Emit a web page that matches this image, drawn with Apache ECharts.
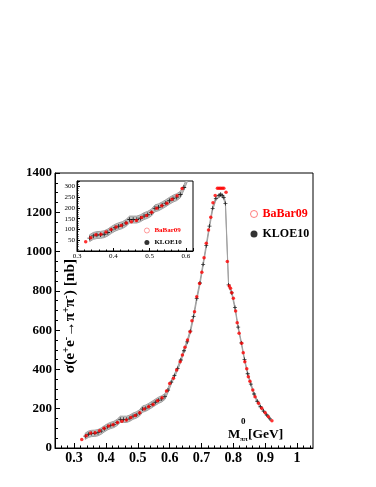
<!DOCTYPE html>
<html>
<head>
<meta charset="utf-8">
<script src="https://cdn.jsdelivr.net/npm/echarts@6/dist/echarts.min.js"></script>
<style>
html, body { margin: 0; padding: 0; background: #fff; }
#chart { width: 376px; height: 487px; }
</style>
</head>
<body>
<div id="chart"></div>
<script>
// BaBar09 points (GeV, nb)
const babarX = [0.324, 0.338, 0.352, 0.366, 0.380, 0.394, 0.408, 0.422, 0.436, 0.450,
  0.464, 0.478, 0.492, 0.506, 0.520, 0.534, 0.548, 0.562, 0.576, 0.590,
  0.600, 0.612, 0.622, 0.633, 0.640, 0.648, 0.656, 0.664, 0.670, 0.678,
  0.685, 0.694, 0.701, 0.708, 0.715, 0.722, 0.729, 0.736, 0.743, 0.750,
  0.755, 0.760, 0.765, 0.770, 0.777, 0.781, 0.787, 0.791, 0.795, 0.800,
  0.807, 0.812, 0.818, 0.826, 0.831, 0.836, 0.842, 0.847, 0.852, 0.861,
  0.868, 0.879, 0.889, 0.900, 0.910, 0.921]
const babarY = [43, 62, 76, 78, 88, 100, 112, 118, 130, 136,
  142, 155, 165, 180, 198, 210, 222, 240, 256, 290,
  329, 355, 397, 439, 473, 513, 550, 592, 648, 694,
  770, 838, 895, 968, 1042, 1110, 1175, 1249, 1285, 1322,
  1322, 1322, 1322, 1322, 1302, 949, 825, 813, 790, 762,
  698, 638, 584, 533, 485, 439, 403, 363, 340, 295,
  261, 228, 202, 180, 159, 139]

// KLOE10 points with error (nb)
const kloeX = [0.335, 0.345, 0.355, 0.365, 0.375, 0.385, 0.395, 0.405, 0.415, 0.425,
  0.435, 0.445, 0.455, 0.465, 0.475, 0.485, 0.495, 0.505, 0.515, 0.525,
  0.535, 0.545, 0.555, 0.565, 0.575, 0.585, 0.595, 0.605, 0.615, 0.625,
  0.635, 0.645, 0.655, 0.665, 0.675, 0.685, 0.695, 0.705, 0.715, 0.725,
  0.735, 0.745, 0.755, 0.760, 0.765, 0.770, 0.775, 0.785, 0.795, 0.805,
  0.815, 0.825, 0.835, 0.845, 0.855, 0.865, 0.875, 0.885, 0.895, 0.905, 0.915]
const kloeY = [60, 70, 74, 75, 78, 86, 98, 108, 115, 120,
  130, 146, 146, 146, 152, 162, 168, 178, 198, 203,
  212, 222, 233, 243, 250, 262, 295, 335, 368, 405,
  448, 495, 540, 595, 670, 760, 840, 935, 1030, 1130,
  1220, 1270, 1285, 1290, 1285, 1275, 1245, 830, 790, 715,
  615, 535, 450, 378, 325, 275, 238, 210, 188, 168, 148]
const kloeErr = [16, 16, 16, 16, 16, 16, 16, 16, 16, 16,
  16, 16, 16, 16, 16, 16, 16, 16, 16, 16,
  16, 16, 16, 16, 16, 15, 12, 10, 9, 9,
  9, 9, 9, 9, 9, 9, 9, 9, 9, 9,
  9, 9, 9, 9, 9, 9, 9, 7, 7, 7,
  6, 6, 6, 6, 6, 6, 6, 6, 6, 6, 6]

const xTicks = [0.3, 0.4, 0.5, 0.6, 0.7, 0.8, 0.9, 1.0]

const serif = '"Liberation Serif", "Times New Roman", serif'
const xMinor = []
for (let i = 12; i <= 52; i++) {
  if (i % 5 !== 0) xMinor.push(i / 50)
}

const babarPts = babarX.map((x, i) => [x, babarY[i]])
const kloePts = kloeX.map((x, i) => [x, kloeY[i]])
const plusPath = 'path://M4,0H6V4H10V6H6V10H4V6H0V4H4Z'

// gray error band of KLOE
function bandItem(params, api) {
  const up = kloeX.map((x, i) => api.coord([x, kloeY[i] + kloeErr[i]]))
  const lo = kloeX.map((x, i) => api.coord([x, kloeY[i] - kloeErr[i]])).reverse()
  return {
    type: 'polygon',
    shape: { points: up.concat(lo) },
    style: { fill: '#bdbdbd', stroke: '#a0a0a0', lineWidth: 1 }
  }
}

function seriesFor(idx, redSize, blackSize) {
  const xi = idx === 0 ? 0 : 2
  return [
    {
      name: 'band',
      type: 'custom',
      xAxisIndex: xi,
      yAxisIndex: idx,
      clip: true,
      silent: true,
      data: [[0.5, 100]],
      renderItem: bandItem
    },
    {
      name: 'KLOE10',
      type: 'scatter',
      xAxisIndex: xi,
      yAxisIndex: idx,
      clip: true,
      symbol: plusPath,
      symbolSize: blackSize,
      itemStyle: { color: '#000' },
      data: kloePts
    },
    {
      name: 'BaBar09',
      type: 'scatter',
      xAxisIndex: xi,
      yAxisIndex: idx,
      clip: true,
      symbolSize: redSize,
      itemStyle: { color: '#ff0000' },
      data: babarPts
    }
  ]
}

const chart = echarts.init(document.getElementById('chart'), null, { renderer: 'canvas' })
chart.setOption({
  animation: false,
  backgroundColor: '#fff',
  textStyle: { fontFamily: serif },
  grid: [
    { left: 55, top: 173, width: 258, height: 275, show: true, borderColor: '#000', borderWidth: 1, backgroundColor: 'transparent', containLabel: false, outerBoundsMode: 'none' },
    { left: 77, top: 181, width: 116, height: 70, show: true, borderColor: '#000', borderWidth: 1, backgroundColor: '#fff', containLabel: false, outerBoundsMode: 'none' }
  ],
  xAxis: [
    {
      type: 'value', gridIndex: 0, min: 0.24, max: 1.05, position: 'bottom',
      axisLine: { lineStyle: { color: '#000', width: 1 } },
      axisTick: { inside: true, length: 5, customValues: xTicks, lineStyle: { color: '#000' } },
      axisLabel: {
        customValues: xTicks, margin: 3, color: '#000', fontFamily: serif, fontWeight: 'bold', fontSize: 14,
        formatter: v => String(Math.round(v * 10) / 10)
      },
      splitLine: { show: false }
    },
    {
      type: 'value', gridIndex: 0, min: 0.24, max: 1.05, position: 'bottom',
      axisLine: { show: false },
      axisTick: { inside: true, length: 2.5, customValues: xMinor, lineStyle: { color: '#000' } },
      axisLabel: { show: false },
      splitLine: { show: false }
    },
    {
      type: 'value', gridIndex: 1, min: 0.3, max: 0.62, interval: 0.1,
      axisLine: { lineStyle: { color: '#000', width: 1 } },
      axisTick: { inside: true, length: 3, lineStyle: { color: '#000' } },
      minorTick: { show: true, splitNumber: 5, length: 1.5, lineStyle: { color: '#000' } },
      axisLabel: {
        margin: 2, color: '#000', fontFamily: serif, fontSize: 7, showMaxLabel: false,
        formatter: v => String(Math.round(v * 10) / 10)
      },
      splitLine: { show: false }
    }
  ],
  yAxis: [
    {
      type: 'value', gridIndex: 0, min: 0, max: 1400, interval: 200,
      axisLine: { show: true, lineStyle: { color: '#000', width: 1 } },
      axisTick: { show: true, inside: true, length: 5, lineStyle: { color: '#000' } },
      minorTick: { show: true, splitNumber: 4, length: 3, lineStyle: { color: '#000' } },
      axisLabel: { margin: 3, color: '#000', fontFamily: serif, fontWeight: 'bold', fontSize: 13, formatter: v => String(v) },
      splitLine: { show: false }
    },
    {
      type: 'value', gridIndex: 1, min: 0, max: 325, interval: 50,
      axisLine: { show: true, lineStyle: { color: '#000', width: 1 } },
      axisTick: { show: true, inside: true, length: 3, lineStyle: { color: '#000' } },
      minorTick: { show: true, splitNumber: 5, length: 1.5, lineStyle: { color: '#000' } },
      axisLabel: { margin: 2, color: '#000', fontFamily: serif, fontSize: 7, showMinLabel: false, showMaxLabel: false, formatter: v => String(v) },
      splitLine: { show: false }
    }
  ],
  legend: [
    {
      orient: 'vertical', left: 245, top: 203, itemWidth: 7, itemHeight: 7, itemGap: 8,
      selectedMode: false,
      textStyle: { fontFamily: serif, fontWeight: 'bold', fontSize: 12 },
      data: [
        { name: 'BaBar09', icon: 'circle', itemStyle: { color: '#fff', borderColor: '#ff6060', borderWidth: 1 }, textStyle: { color: '#ff0000' } },
        { name: 'KLOE10', icon: 'circle', itemStyle: { color: '#000', borderWidth: 0 }, textStyle: { color: '#000' } }
      ]
    },
    {
      orient: 'vertical', left: 139, top: 222, itemWidth: 5, itemHeight: 5, itemGap: 5,
      selectedMode: false,
      textStyle: { fontFamily: serif, fontWeight: 'bold', fontSize: 7 },
      data: [
        { name: 'BaBar09', icon: 'circle', itemStyle: { color: '#fff', borderColor: '#ff6060', borderWidth: 0.8 }, textStyle: { color: '#ff0000' } },
        { name: 'KLOE10', icon: 'circle', itemStyle: { color: '#000', borderWidth: 0 }, textStyle: { color: '#000' } }
      ]
    }
  ],
  graphic: [
    {
      type: 'text', x: 70, y: 316, rotation: Math.PI / 2,
      style: {
        text: 'σ(e{sup|+}e{sup|-}→π{sup|+}π{sup|-}) [nb]',
        align: 'center', verticalAlign: 'middle',
        font: 'bold 15.5px ' + serif, fill: '#000',
        rich: {
          sup: { fontFamily: serif, fontWeight: 'bold', fontSize: 10, verticalAlign: 'top', lineHeight: 17 }
        }
      }
    },
    { type: 'text', x: 228, y: 435, style: { text: 'M', verticalAlign: 'middle', font: 'bold 13px ' + serif, fill: '#000' } },
    { type: 'text', x: 241, y: 422, style: { text: '0', verticalAlign: 'middle', font: 'bold 9px ' + serif, fill: '#000' } },
    { type: 'text', x: 240, y: 439, style: { text: 'ππ', verticalAlign: 'middle', font: 'bold 7px ' + serif, fill: '#000' } },
    { type: 'text', x: 248, y: 435, style: { text: '[GeV]', verticalAlign: 'middle', font: 'bold 13.5px ' + serif, fill: '#000' } }
  ],
  series: seriesFor(0, 3.5, 4).concat(seriesFor(1, 3.5, 4.5))
})
</script>
</body>
</html>
